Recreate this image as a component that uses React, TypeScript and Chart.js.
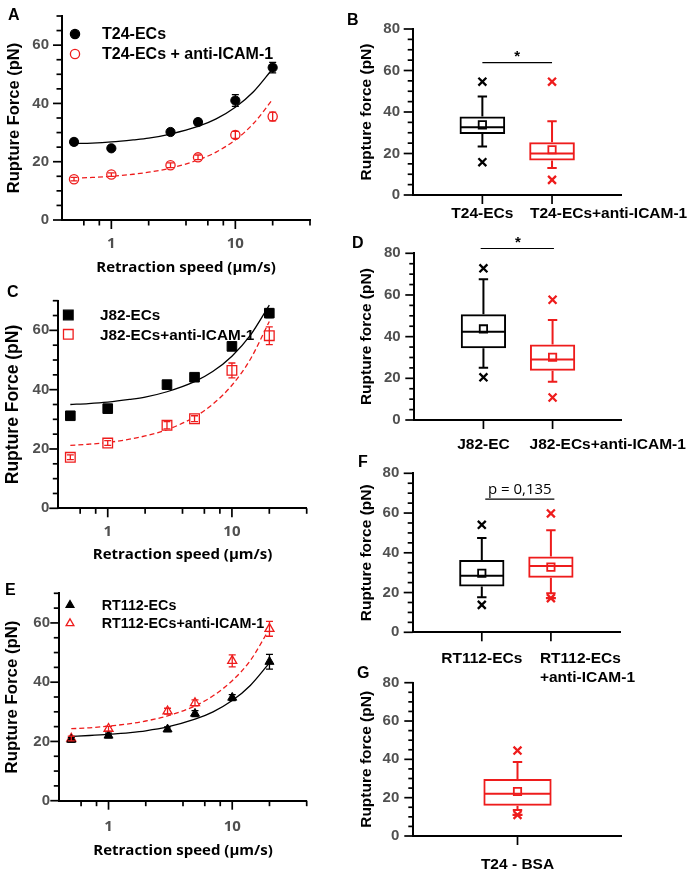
import React, { useEffect, useRef } from 'react';
import { Chart, registerables } from 'chart.js';

Chart.register(...registerables);

// ---------------- colours & fonts ----------------
const BLACK = '#000000';
const RED = '#ee1c1c';
const TICK_GRAY = '#505050';
const ARIAL = '"Liberation Sans", Arial, Helvetica, sans-serif';
const OPEN = '"Open Sans", "DejaVu Sans", sans-serif';

// ---------------- shared axis values ----------------
const SPEEDS = [0.5, 1, 3, 5, 10, 20];
const FIT_SPEEDS = [0.5, 0.7, 1, 1.5, 2, 3, 5, 7, 10, 14, 20];
const SPEED_LABEL_TICKS = [1, 10];
const SPEED_MAJOR_TICKS = [1, 10];
const SPEED_MINOR_TICKS = [0.6, 0.8, 2, 4, 6, 8, 20, 40];
const FORCE70_LABEL_TICKS = [0, 20, 40, 60];
const FORCE70_MINOR_TICKS = [5, 10, 15, 25, 30, 35, 45, 50, 55, 65, 70];
const FORCE80_LABEL_TICKS = [0, 20, 40, 60, 80];
const FORCE80_MINOR_TICKS = [5, 10, 15, 25, 30, 35, 45, 50, 55, 65, 70, 75];
const X_TITLE = 'Retraction speed (µm/s)';
const Y_TITLE_LINE = 'Rupture Force (pN)';
const Y_TITLE_BOX = 'Rupture force (pN)';

// ---------------- panel A ----------------
const A_LABELS = ['T24-ECs', 'T24-ECs + anti-ICAM-1'];
const A_CTRL = [26.8, 24.6, 30.2, 33.6, 41.0, 52.3];
const A_CTRL_ERR = [1.0, 0.8, 1.0, 1.0, 2.0, 1.8];
const A_ANTI = [14.0, 15.6, 18.8, 21.5, 29.2, 35.5];
const A_ANTI_ERR = [0.6, 0.6, 0.8, 0.8, 1.2, 1.5];
const A_CTRL_FIT = [26.2, 26.4, 26.8, 27.5, 28.1, 29.5, 32.1, 34.7, 38.7, 44.0, 51.9];
const A_ANTI_FIT = [14.3, 14.6, 15.0, 15.7, 16.4, 17.8, 20.6, 23.3, 27.5, 33.1, 41.4];

// ---------------- panel C ----------------
const C_LABELS = ['J82-ECs', 'J82-ECs+anti-ICAM-1'];
const C_CTRL = [31.2, 33.6, 41.7, 44.2, 54.6, 65.8];
const C_CTRL_ERR = [1.0, 1.0, 1.0, 1.0, 1.0, 1.5];
const C_ANTI = [17.2, 22.0, 28.0, 30.2, 46.5, 58.2];
const C_ANTI_ERR = [0.8, 0.8, 1.2, 1.0, 2.5, 3.0];
const C_CTRL_FIT = [35.0, 35.3, 35.8, 36.7, 37.5, 39.3, 42.7, 46.1, 51.3, 58.2, 68.5];
const C_ANTI_FIT = [21.2, 21.6, 22.2, 23.3, 24.4, 26.5, 30.8, 35.1, 41.5, 50.1, 63.0];

// ---------------- panel E ----------------
const E_LABELS = ['RT112-ECs', 'RT112-ECs+anti-ICAM-1'];
const E_CTRL = [20.6, 22.0, 24.1, 29.4, 34.8, 46.9];
const E_CTRL_ERR = [0.8, 0.8, 0.8, 1.0, 1.0, 2.5];
const E_ANTI = [21.0, 24.3, 30.2, 33.0, 47.2, 58.0];
const E_ANTI_ERR = [0.8, 0.8, 1.0, 1.0, 2.0, 2.5];
const E_CTRL_FIT = [21.7, 22.0, 22.4, 23.0, 23.6, 24.9, 27.5, 30.0, 33.8, 38.9, 46.5];
const E_ANTI_FIT = [24.3, 24.6, 25.2, 26.0, 26.9, 28.6, 32.0, 35.4, 40.5, 47.3, 58.0];

// ---------------- panel B (box) ----------------
const B_CATS = ['T24-ECs', 'T24-ECs+anti-ICAM-1'];
const B_Q1 = [29.4, 16.6];
const B_Q3 = [37.8, 25.4];
const B_MED = [32.6, 20.0];
const B_WLO = [23.4, 13.0];
const B_WHI = [47.5, 35.5];
const B_MEAN = [33.8, 21.8];
const B_OUT_HI = [54.6, 54.6];
const B_OUT_LO = [15.8, 7.3];

// ---------------- panel D (box) ----------------
const D_CATS = ['J82-EC', 'J82-ECs+anti-ICAM-1'];
const D_Q1 = [34.4, 23.6];
const D_Q3 = [50.8, 36.2];
const D_MED = [42.4, 29.0];
const D_WLO = [25.1, 18.3];
const D_WHI = [67.6, 48.0];
const D_MEAN = [43.7, 30.1];
const D_OUT_HI = [72.8, 57.7];
const D_OUT_LO = [20.5, 10.8];

// ---------------- panel F (box) ----------------
const F_CATS: (string | string[])[] = ['RT112-ECs', ['RT112-ECs', '+anti-ICAM-1']];
const F_Q1 = [23.0, 27.5];
const F_Q3 = [36.4, 38.2];
const F_MED = [28.4, 33.4];
const F_WLO = [17.6, 19.6];
const F_WHI = [47.4, 51.3];
const F_MEAN = [29.7, 32.8];
const F_OUT_HI = [54.1, 59.8];
const F_OUT_LO = [13.8, 17.2];
const F_MIN_DASH = [null, 17.2];

// ---------------- panel G (box) ----------------
const G_CATS = ['T24 - BSA'];
const G_Q1 = [15.8];
const G_Q3 = [29.8];
const G_MED = [22.0];
const G_WLO = [13.6];
const G_WHI = [38.6];
const G_MEAN = [23.2];
const G_OUT_HI = [44.6];
const G_OUT_LO = [11.0];
const G_MIN_DASH = [11.0];

// ---------------- significance ----------------
const B_SIG = { text: '*', line: 63.8, textBase: 64.4 };
const D_SIG = { text: '*', line: 82.3, textBase: 83.0 };
const F_SIG = { text: 'p = 0,135', line: 67.0, textBase: 69.6 };

type Shape = 'circle' | 'rect' | 'triangle';

interface Fig {
  letter: { text: string; x: number; y: number };
  ticks: { xMajor: number[]; xMinor: number[]; yMajor: number[]; yMinor: number[]; majorLen: number; minorLen: number };
  legend?: { items: { text: string; color: string; filled: boolean }[]; shape: Shape; r: number; x: number; y: number; dy: number; textX: number; font: number };
  sig?: { x1: number; x2: number; y: number; tx: number; ty: number; text: string; font: string };
  leftLabel?: { index: number; dx: number; pad: number; lh: number; font: string };
}

function drawMarker(ctx: CanvasRenderingContext2D, shape: Shape, x: number, y: number, r: number, color: string, filled: boolean, lw: number) {
  ctx.save();
  ctx.beginPath();
  if (shape === 'circle') ctx.arc(x, y, r, 0, Math.PI * 2);
  else if (shape === 'rect') {
    const s = r * Math.SQRT1_2;
    ctx.rect(x - s, y - s, 2 * s, 2 * s);
  } else {
    for (let k = 0; k < 3; k++) {
      const a = (k * 2 * Math.PI) / 3;
      const px = x + Math.sin(a) * r;
      const py = y - Math.cos(a) * r;
      if (k === 0) ctx.moveTo(px, py);
      else ctx.lineTo(px, py);
    }
    ctx.closePath();
  }
  ctx.fillStyle = filled ? color : '#ffffff';
  ctx.fill();
  ctx.lineWidth = lw;
  ctx.strokeStyle = color;
  ctx.stroke();
  ctx.restore();
}

function figurePlugin(fig: Fig) {
  return {
    id: 'figure',
    afterDatasetsDraw(chart: any) {
      const ctx: CanvasRenderingContext2D = chart.ctx;
      const ys = chart.scales.y;
      chart.data.datasets.forEach((ds: any, di: number) => {
        const meta = chart.getDatasetMeta(di);
        if (ds.yErr) {
          ctx.save();
          ctx.strokeStyle = ds.borderColor;
          ctx.lineWidth = 1.3;
          meta.data.forEach((pt: any, i: number) => {
            const v = ds.data[i].y;
            const e = ds.yErr[i];
            const x = pt.x;
            const yt = ys.getPixelForValue(v + e);
            const yb = ys.getPixelForValue(v - e);
            ctx.beginPath();
            ctx.moveTo(x, yt);
            ctx.lineTo(x, yb);
            ctx.moveTo(x - 3.5, yt);
            ctx.lineTo(x + 3.5, yt);
            ctx.moveTo(x - 3.5, yb);
            ctx.lineTo(x + 3.5, yb);
            ctx.stroke();
          });
          ctx.restore();
        }
        if (ds.box) {
          const b = ds.box;
          ctx.save();
          ctx.lineWidth = 2;
          meta.data.forEach((bar: any, i: number) => {
            if (b.med[i] == null) return;
            ctx.strokeStyle = ds.borderColor[i];
            const x = bar.x;
            const hw = bar.width / 2;
            const pm = ys.getPixelForValue(b.med[i]);
            const p1 = ys.getPixelForValue(b.q1[i]);
            const p3 = ys.getPixelForValue(b.q3[i]);
            const pl = ys.getPixelForValue(b.lo[i]);
            const ph = ys.getPixelForValue(b.hi[i]);
            ctx.beginPath();
            ctx.moveTo(x - hw + 1, pm);
            ctx.lineTo(x + hw - 1, pm);
            ctx.moveTo(x, p3);
            ctx.lineTo(x, ph);
            ctx.moveTo(x - 4.7, ph);
            ctx.lineTo(x + 4.7, ph);
            ctx.moveTo(x, p1);
            ctx.lineTo(x, pl);
            ctx.moveTo(x - 4.7, pl);
            ctx.lineTo(x + 4.7, pl);
            ctx.stroke();
          });
          ctx.restore();
        }
      });
    },
    afterDraw(chart: any) {
      const ctx: CanvasRenderingContext2D = chart.ctx;
      const xs = chart.scales.x;
      const ys = chart.scales.y;
      const area = chart.chartArea;
      const t = fig.ticks;
      ctx.save();
      ctx.strokeStyle = BLACK;
      ctx.lineWidth = 1.7;
      const tickX = (vals: number[], len: number) =>
        vals.forEach((v) => {
          const px = xs.getPixelForValue(v);
          ctx.beginPath();
          ctx.moveTo(px, area.bottom);
          ctx.lineTo(px, area.bottom + len);
          ctx.stroke();
        });
      const tickY = (vals: number[], len: number) =>
        vals.forEach((v) => {
          const py = ys.getPixelForValue(v);
          ctx.beginPath();
          ctx.moveTo(area.left, py);
          ctx.lineTo(area.left - len, py);
          ctx.stroke();
        });
      tickX(t.xMajor, t.majorLen);
      tickX(t.xMinor, t.minorLen);
      tickY(t.yMajor, t.majorLen);
      tickY(t.yMinor, t.minorLen);
      ctx.restore();

      if (fig.legend) {
        const L = fig.legend;
        L.items.forEach((it, i) => {
          const y = L.y + i * L.dy;
          drawMarker(ctx, L.shape, L.x, y, L.r, it.color, it.filled, 1.3);
          ctx.save();
          ctx.fillStyle = BLACK;
          ctx.font = `bold ${L.font}px ${ARIAL}`;
          ctx.textAlign = 'left';
          ctx.textBaseline = 'middle';
          ctx.fillText(it.text, L.textX, y + 1);
          ctx.restore();
        });
      }

      if (fig.sig) {
        const s = fig.sig;
        ctx.save();
        ctx.strokeStyle = BLACK;
        ctx.lineWidth = 1.2;
        const py = ys.getPixelForValue(s.y);
        ctx.beginPath();
        ctx.moveTo(xs.getPixelForValue(s.x1), py);
        ctx.lineTo(xs.getPixelForValue(s.x2), py);
        ctx.stroke();
        ctx.fillStyle = BLACK;
        ctx.font = s.font;
        ctx.textAlign = 'center';
        ctx.textBaseline = 'alphabetic';
        ctx.fillText(s.text, xs.getPixelForValue(s.tx), ys.getPixelForValue(s.ty));
        ctx.restore();
      }

      if (fig.leftLabel) {
        const L = fig.leftLabel;
        const raw = chart.data.labels[L.index];
        const lines: string[] = Array.isArray(raw) ? raw : [raw];
        const px = xs.getPixelForValue(L.index) + L.dx;
        ctx.save();
        ctx.fillStyle = BLACK;
        ctx.font = L.font;
        ctx.textAlign = 'left';
        ctx.textBaseline = 'middle';
        lines.forEach((ln, k) => ctx.fillText(ln, px, area.bottom + L.pad + L.lh / 2 + k * L.lh));
        ctx.restore();
      }

      ctx.save();
      ctx.fillStyle = BLACK;
      ctx.font = `bold 16px ${ARIAL}`;
      ctx.textAlign = 'left';
      ctx.textBaseline = 'alphabetic';
      ctx.fillText(fig.letter.text, fig.letter.x, fig.letter.y);
      ctx.restore();
    },
  };
}

function yAxis(max: number, labelTicks: number[], width: number, tickPad: number, title: string, titleSize: number, titlePad: number) {
  return {
    min: 0,
    max,
    afterBuildTicks: (s: any) => {
      s.ticks = labelTicks.map((v) => ({ value: v }));
    },
    afterFit: (s: any) => {
      s.width = width;
      s.paddingTop = 0;
      s.paddingBottom = 0;
    },
    grid: { display: false, drawTicks: false },
    border: { display: true, color: BLACK, width: 2 },
    ticks: { padding: tickPad, color: TICK_GRAY, autoSkip: false, font: { family: ARIAL, size: 15, weight: 'bold', lineHeight: 1.2 } },
    title: { display: true, text: title, color: BLACK, font: { family: ARIAL, size: titleSize, weight: 'bold', lineHeight: 1.2 }, padding: { top: titlePad, bottom: 0 } },
  };
}

interface LinePanel {
  labels: string[];
  ctrl: number[];
  ctrlErr: number[];
  anti: number[];
  antiErr: number[];
  ctrlFit: number[];
  antiFit: number[];
  shape: Shape;
  r: number;
  legendR: number;
  padTop: number;
  padRight: number;
  yw: number;
  xh: number;
  yTickPad: number;
  yTitleSize: number;
  yTitlePad: number;
  xTickPad: number;
  xTitlePad: number;
  letter: { text: string; x: number; y: number };
  legendX: number;
  legendY: number;
  legendDy: number;
  legendTextX: number;
  legendFont: number;
}

function lineConfig(p: LinePanel): any {
  const fig: Fig = {
    letter: p.letter,
    ticks: { xMajor: SPEED_MAJOR_TICKS, xMinor: SPEED_MINOR_TICKS, yMajor: FORCE70_LABEL_TICKS, yMinor: FORCE70_MINOR_TICKS, majorLen: 9, minorLen: 5.5 },
    legend: {
      items: [
        { text: p.labels[0], color: BLACK, filled: true },
        { text: p.labels[1], color: RED, filled: false },
      ],
      shape: p.shape,
      r: p.legendR,
      x: p.legendX,
      y: p.legendY,
      dy: p.legendDy,
      textX: p.legendTextX,
      font: p.legendFont,
    },
  };
  return {
    type: 'scatter',
    data: {
      datasets: [
        { label: p.labels[0], data: SPEEDS.map((x, i) => ({ x, y: p.ctrl[i] })), yErr: p.ctrlErr, pointStyle: p.shape, pointRadius: p.r, pointBackgroundColor: BLACK, pointBorderColor: BLACK, borderColor: BLACK, pointBorderWidth: 1 },
        { label: p.labels[1], data: SPEEDS.map((x, i) => ({ x, y: p.anti[i] })), yErr: p.antiErr, pointStyle: p.shape, pointRadius: p.r, pointBackgroundColor: '#ffffff', pointBorderColor: RED, borderColor: RED, pointBorderWidth: 1.3 },
        { label: 'fit ctrl', data: FIT_SPEEDS.map((x, i) => ({ x, y: p.ctrlFit[i] })), showLine: true, pointRadius: 0, borderColor: BLACK, borderWidth: 1.3, cubicInterpolationMode: 'monotone' },
        { label: 'fit anti', data: FIT_SPEEDS.map((x, i) => ({ x, y: p.antiFit[i] })), showLine: true, pointRadius: 0, borderColor: RED, borderWidth: 1.3, borderDash: [5, 3], cubicInterpolationMode: 'monotone' },
      ],
    },
    options: {
      responsive: false,
      animation: false,
      events: [],
      layout: { padding: { top: p.padTop, right: p.padRight, left: 0, bottom: 0 } },
      plugins: { legend: { display: false }, tooltip: { enabled: false } },
      scales: {
        x: {
          type: 'logarithmic',
          min: 0.4,
          max: 40,
          afterBuildTicks: (s: any) => {
            s.ticks = SPEED_LABEL_TICKS.map((v) => ({ value: v }));
          },
          afterFit: (s: any) => {
            s.height = p.xh;
            s.paddingLeft = 0;
            s.paddingRight = 0;
          },
          grid: { display: false, drawTicks: false },
          border: { display: true, color: BLACK, width: 2 },
          ticks: { padding: p.xTickPad, color: TICK_GRAY, autoSkip: false, maxRotation: 0, font: { family: OPEN, size: 15, weight: 'bold', lineHeight: 1.2 }, callback: (v: any) => String(v) },
          title: { display: true, text: X_TITLE, color: BLACK, font: { family: OPEN, size: 15, weight: 'bold', lineHeight: 1.2 }, padding: { top: 0, bottom: p.xTitlePad } },
        },
        y: yAxis(70, FORCE70_LABEL_TICKS, p.yw, p.yTickPad, Y_TITLE_LINE, p.yTitleSize, p.yTitlePad),
      },
    },
    plugins: [figurePlugin(fig)],
  };
}

interface BoxPanel {
  cats: (string | string[])[];
  q1: number[];
  q3: number[];
  med: number[];
  wlo: number[];
  whi: number[];
  mean: number[];
  outHi: number[];
  outLo: number[];
  minDash?: (number | null)[];
  colors: string[];
  padTop: number;
  padRight: number;
  yw: number;
  xh: number;
  yTickPad: number;
  yTitlePad: number;
  xTickPad: number;
  xLineHeight: number;
  letter: { text: string; x: number; y: number };
  sig?: Fig['sig'];
  leftIndex?: number;
  leftDx?: number;
}

function boxConfig(p: BoxPanel): any {
  const n = p.cats.length;
  const labels = ['', ...p.cats, ''];
  const pad = <T,>(arr: T[]) => [null, ...arr, null];
  const catIdx = p.cats.map((_, i) => i + 1);
  const fig: Fig = {
    letter: p.letter,
    ticks: { xMajor: catIdx, xMinor: [], yMajor: FORCE80_LABEL_TICKS, yMinor: FORCE80_MINOR_TICKS, majorLen: 9, minorLen: 5 },
    sig: p.sig,
  };
  if (p.leftIndex !== undefined) {
    fig.leftLabel = { index: p.leftIndex, dx: p.leftDx ?? -11, pad: p.xTickPad, lh: 15.5 * p.xLineHeight, font: `bold 15.5px ${ARIAL}` };
  }
  const colorArr = ['rgba(0,0,0,0)', ...p.colors, 'rgba(0,0,0,0)'];
  const datasets: any[] = [
    {
      type: 'bar',
      data: pad(p.cats.map((_, i) => [p.q1[i], p.q3[i]])),
      backgroundColor: 'rgba(0,0,0,0)',
      borderColor: colorArr,
      borderWidth: 2,
      borderSkipped: false,
      barPercentage: 0.655,
      categoryPercentage: 1,
      box: { q1: pad(p.q1), q3: pad(p.q3), med: pad(p.med), lo: pad(p.wlo), hi: pad(p.whi) },
    },
    { type: 'scatter', data: pad(p.mean), pointStyle: 'rect', pointRadius: 5.2, pointBorderWidth: 1.8, pointBorderColor: colorArr, pointBackgroundColor: 'rgba(0,0,0,0)' },
    { type: 'scatter', data: pad(p.outHi), pointStyle: 'crossRot', pointRadius: 5.6, pointBorderWidth: 2.3, pointBorderColor: colorArr },
    { type: 'scatter', data: pad(p.outLo), pointStyle: 'crossRot', pointRadius: 5.6, pointBorderWidth: 2.3, pointBorderColor: colorArr },
  ];
  if (p.minDash) {
    datasets.push({ type: 'scatter', data: pad(p.minDash), pointStyle: 'line', pointRadius: 5, pointBorderWidth: 2.3, pointBorderColor: colorArr });
  }
  return {
    type: 'bar',
    data: { labels, datasets },
    options: {
      responsive: false,
      animation: false,
      events: [],
      layout: { padding: { top: p.padTop, right: p.padRight, left: 0, bottom: 0 } },
      plugins: { legend: { display: false }, tooltip: { enabled: false } },
      scales: {
        x: {
          type: 'category',
          offset: false,
          afterFit: (s: any) => {
            s.height = p.xh;
            s.paddingLeft = 0;
            s.paddingRight = 0;
          },
          grid: { display: false, drawTicks: false },
          border: { display: true, color: BLACK, width: 2 },
          ticks: {
            padding: p.xTickPad,
            color: BLACK,
            autoSkip: false,
            maxRotation: 0,
            minRotation: 0,
            font: { family: ARIAL, size: 15.5, weight: 'bold', lineHeight: p.xLineHeight },
            callback: (_v: any, i: number) => (i === p.leftIndex || i === 0 || i === n + 1 ? '' : labels[i]),
          },
        },
        y: yAxis(80, FORCE80_LABEL_TICKS, p.yw, p.yTickPad, Y_TITLE_BOX, 15.5, p.yTitlePad),
      },
    },
    plugins: [figurePlugin(fig)],
  };
}

function ChartCanvas({ left, top, width, height, build }: { left: number; top: number; width: number; height: number; build: () => any }) {
  const ref = useRef<HTMLCanvasElement | null>(null);
  useEffect(() => {
    if (!ref.current) return;
    const chart = new Chart(ref.current, build());
    return () => chart.destroy();
  }, []);
  return <canvas ref={ref} width={width} height={height} style={{ position: 'absolute', left, top, width, height }} />;
}

const panelA = () =>
  lineConfig({
    labels: A_LABELS, ctrl: A_CTRL, ctrlErr: A_CTRL_ERR, anti: A_ANTI, antiErr: A_ANTI_ERR, ctrlFit: A_CTRL_FIT, antiFit: A_ANTI_FIT,
    shape: 'circle', r: 4.6, legendR: 4.6,
    padTop: 16, padRight: 35, yw: 62, xh: 62,
    yTickPad: 13, yTitleSize: 16.5, yTitlePad: 5, xTickPad: 14.5, xTitlePad: 5,
    letter: { text: 'A', x: 8, y: 20 },
    legendX: 75, legendY: 34, legendDy: 20, legendTextX: 102, legendFont: 16,
  });

const panelC = () =>
  lineConfig({
    labels: C_LABELS, ctrl: C_CTRL, ctrlErr: C_CTRL_ERR, anti: C_ANTI, antiErr: C_ANTI_ERR, ctrlFit: C_CTRL_FIT, antiFit: C_ANTI_FIT,
    shape: 'rect', r: 6.8, legendR: 6.8,
    padTop: 18.7, padRight: 38.3, yw: 58.3, xh: 63.7,
    yTickPad: 9, yTitleSize: 17.5, yTitlePad: 2.8, xTickPad: 14.4, xTitlePad: 8,
    letter: { text: 'C', x: 7, y: 15 },
    legendX: 68.3, legendY: 33, legendDy: 19.3, legendTextX: 100, legendFont: 15.3,
  });

const panelE = () =>
  lineConfig({
    labels: E_LABELS, ctrl: E_CTRL, ctrlErr: E_CTRL_ERR, anti: E_ANTI, antiErr: E_ANTI_ERR, ctrlFit: E_CTRL_FIT, antiFit: E_ANTI_FIT,
    shape: 'triangle', r: 5.2, legendR: 4.5,
    padTop: 21.3, padRight: 38.3, yw: 59.3, xh: 75.3,
    yTickPad: 9.3, yTitleSize: 16.8, yTitlePad: 2, xTickPad: 17, xTitlePad: 16.5,
    letter: { text: 'E', x: 5, y: 23 },
    legendX: 70, legendY: 33, legendDy: 18.3, legendTextX: 101.7, legendFont: 14.3,
  });

const panelB = () =>
  boxConfig({
    cats: B_CATS, q1: B_Q1, q3: B_Q3, med: B_MED, wlo: B_WLO, whi: B_WHI, mean: B_MEAN, outHi: B_OUT_HI, outLo: B_OUT_LO,
    colors: [BLACK, RED],
    padTop: 29, padRight: 71.3, yw: 67.7, xh: 45,
    yTickPad: 12.7, yTitlePad: 12.7, xTickPad: 9, xLineHeight: 1.2,
    letter: { text: 'B', x: 2, y: 25 },
    sig: { x1: 1, x2: 2, y: B_SIG.line, tx: 1.5, ty: B_SIG.textBase, text: B_SIG.text, font: `bold 15px ${ARIAL}` },
    leftIndex: 2,
    leftDx: -22,
  });

const panelD = () =>
  boxConfig({
    cats: D_CATS, q1: D_Q1, q3: D_Q3, med: D_MED, wlo: D_WLO, whi: D_WHI, mean: D_MEAN, outHi: D_OUT_HI, outLo: D_OUT_LO,
    colors: [BLACK, RED],
    padTop: 25.3, padRight: 71.3, yw: 69.3, xh: 40,
    yTickPad: 13.6, yTitlePad: 12.7, xTickPad: 15.7, xLineHeight: 1.2,
    letter: { text: 'D', x: 7, y: 20 },
    sig: { x1: 0.96, x2: 2.02, y: D_SIG.line, tx: 1.5, ty: D_SIG.textBase, text: D_SIG.text, font: `bold 15px ${ARIAL}` },
    leftIndex: 2,
    leftDx: -23,
  });

const panelF = () =>
  boxConfig({
    cats: F_CATS, q1: F_Q1, q3: F_Q3, med: F_MED, wlo: F_WLO, whi: F_WHI, mean: F_MEAN, outHi: F_OUT_HI, outLo: F_OUT_LO,
    minDash: F_MIN_DASH,
    colors: [BLACK, RED],
    padTop: 23.3, padRight: 73, yw: 67.7, xh: 49.7,
    yTickPad: 13.4, yTitlePad: 12.7, xTickPad: 16.4, xLineHeight: 1.24,
    letter: { text: 'F', x: 13, y: 17 },
    sig: { x1: 1.05, x2: 2.05, y: F_SIG.line, tx: 1.55, ty: F_SIG.textBase, text: F_SIG.text, font: `15px ${OPEN}` },
    leftIndex: 2,
    leftDx: -11,
  });

const panelG = () =>
  boxConfig({
    cats: G_CATS, q1: G_Q1, q3: G_Q3, med: G_MED, wlo: G_WLO, whi: G_WHI, mean: G_MEAN, outHi: G_OUT_HI, outLo: G_OUT_LO,
    minDash: G_MIN_DASH,
    colors: [RED],
    padTop: 22.7, padRight: 71.3, yw: 68.3, xh: 40,
    yTickPad: 14, yTitlePad: 12.7, xTickPad: 19.7, xLineHeight: 1.2,
    letter: { text: 'G', x: 12, y: 18 },
  });

export default function App() {
  return (
    <div style={{ position: 'absolute', left: 0, top: 0, width: 693, height: 876, background: '#ffffff', overflow: 'hidden' }}>
      <ChartCanvas left={0} top={0} width={345} height={282} build={panelA} />
      <ChartCanvas left={0} top={282} width={345} height={290} build={panelC} />
      <ChartCanvas left={0} top={572} width={345} height={304} build={panelE} />
      <ChartCanvas left={345} top={0} width={348} height={240} build={panelB} />
      <ChartCanvas left={345} top={228} width={348} height={232} build={panelD} />
      <ChartCanvas left={345} top={450} width={348} height={232} build={panelF} />
      <ChartCanvas left={345} top={660} width={348} height={216} build={panelG} />
    </div>
  );
}
